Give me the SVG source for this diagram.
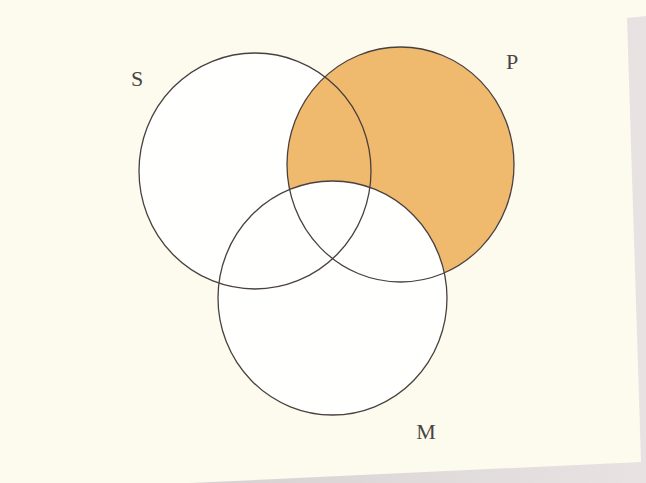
<svg xmlns="http://www.w3.org/2000/svg" width="646" height="483" viewBox="0 0 646 483">
  <style>
    .ring { fill: none; stroke: #4a4040; stroke-width: 1.3; }
    .label { font-family: "Liberation Serif", "Times New Roman", serif; font-size: 22px; fill: #4a4444; text-anchor: middle; }
  </style>
  <defs>
    <linearGradient id="shadowGrad" x1="0" y1="0" x2="1" y2="0">
      <stop offset="0" stop-color="#d8d1d3"/>
      <stop offset="1" stop-color="#e8e3e2"/>
    </linearGradient>
    <mask id="notM">
      <rect x="0" y="0" width="646" height="483" fill="#fff"/>
      <ellipse cx="332.5" cy="298" rx="114.5" ry="117" fill="#000"/>
    </mask>
  </defs>
  <rect x="0" y="0" width="646" height="483" fill="#fdfbee"/>
  <polygon points="627,18 646,16 646,483 190,483 641,462" fill="url(#shadowGrad)"/>
  <g id="regions">
    <ellipse cx="255" cy="171" rx="116" ry="118" fill="#fffffd"/>
    <ellipse cx="400.5" cy="164.5" rx="113.5" ry="117.5" fill="#efba6e" mask="url(#notM)"/>
    <ellipse cx="332.5" cy="298" rx="114.5" ry="117" fill="#fffffd"/>
  </g>
  <g id="connectors"/>
  <g id="S">
    <ellipse class="ring" cx="255" cy="171" rx="116" ry="118"/>
    <text class="label" x="137" y="86">S</text>
  </g>
  <g id="P">
    <ellipse class="ring" cx="400.5" cy="164.5" rx="113.5" ry="117.5"/>
    <text class="label" x="512" y="69">P</text>
  </g>
  <g id="M">
    <ellipse class="ring" cx="332.5" cy="298" rx="114.5" ry="117"/>
    <text class="label" x="426" y="439">M</text>
  </g>
</svg>
